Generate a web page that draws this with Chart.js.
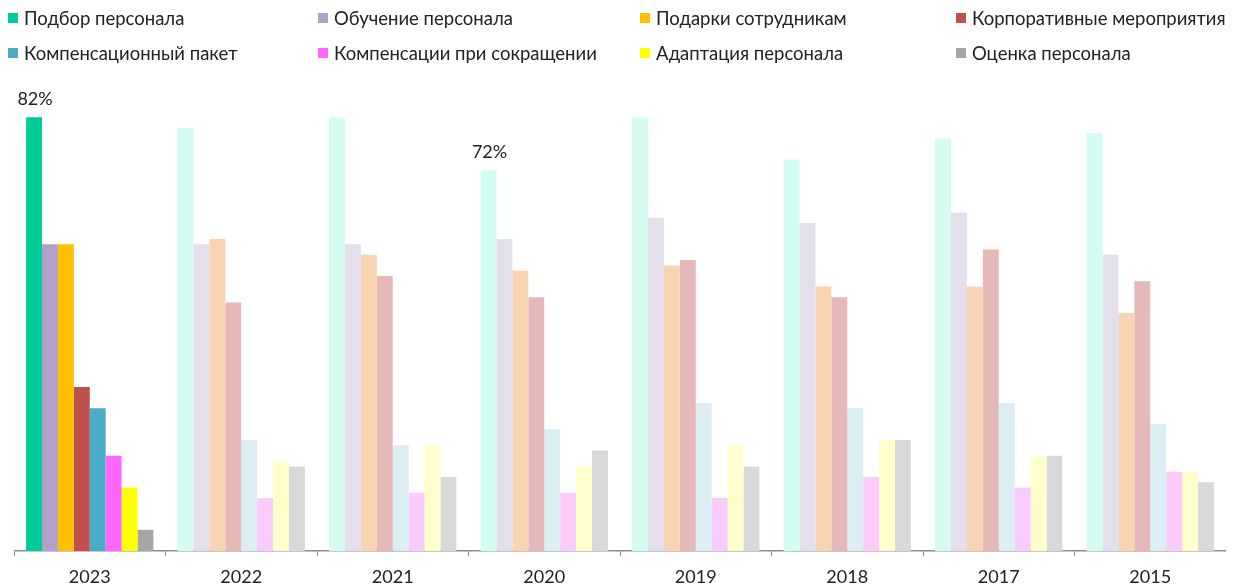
<!DOCTYPE html>
<html>
<head>
<meta charset="utf-8">
<script src="https://cdn.jsdelivr.net/npm/chart.js@4.4.0/dist/chart.umd.min.js"></script>
<style>
  body { margin: 0; background: #fff; }
  #wrap { position: relative; width: 1233px; height: 587px; overflow: hidden; }
  #chart { position: absolute; left: 14px; top: 0; }
  #legend {
    position: absolute; left: 8px; top: 5px;
    display: grid; grid-template-columns: 310px 322px 316px 280px;
    row-gap: 10px;
    font-family: Lato, "Open Sans", sans-serif; font-size: 18.5px; color: #222;
  }
  .item { display: flex; align-items: center; height: 25px; white-space: nowrap; }
  .box { width: 10px; height: 10px; margin-right: 6px; flex: none; }
</style>
</head>
<body>
<div id="wrap">
  <canvas id="chart" width="1212" height="587"></canvas>
  <div id="legend"></div>
</div>
<script>
const years = ["2023", "2022", "2021", "2020", "2019", "2018", "2017", "2015"];

const seriesNames = [
  "Подбор персонала", "Обучение персонала", "Подарки сотрудникам", "Корпоративные мероприятия",
  "Компенсационный пакет", "Компенсации при сокращении", "Адаптация персонала", "Оценка персонала"
];

// percent values, one array per series, in the order of years
const recruiting   = [82, 80, 82, 72, 82, 74, 78, 79];
const training     = [58, 58, 58, 59, 63, 62, 64, 56];
const gifts        = [58, 59, 56, 53, 54, 50, 50, 45];
const corpEvents   = [31, 47, 52, 48, 55, 48, 57, 51];
const compPackage  = [27, 21, 20, 23, 28, 27, 28, 24];
const layoffComp   = [18, 10, 11, 11, 10, 14, 12, 15];
const adaptation   = [12, 17, 20, 16, 20, 21, 18, 15];
const evaluation   = [4, 16, 14, 19, 16, 21, 18, 13];

const seriesValues = [recruiting, training, gifts, corpEvents, compPackage, layoffComp, adaptation, evaluation];

const fullColors = ["#00CC99", "#B1A0C7", "#FFC000", "#C0504D", "#4BACC6", "#FF66FF", "#FFFF00", "#A6A6A6"];
const paleColors = ["#D3FCF3", "#E4DFEC", "#F9D4B2", "#E6B8B7", "#DAEEF3", "#FBCBFC", "#FFFFCC", "#D9D9D9"];

// bars that carry a value label: [series index, year]
const labelled = [[0, "2023"], [0, "2020"]];

const datasets = seriesNames.map((name, i) => ({
  label: name,
  data: seriesValues[i],
  backgroundColor: years.map((y, j) => j === 0 ? fullColors[i] : paleColors[i]),
  borderWidth: 0,
  barPercentage: 1.0,
  categoryPercentage: 0.84
}));

const valueLabels = {
  id: "valueLabels",
  afterDatasetsDraw(chart) {
    const ctx = chart.ctx;
    ctx.save();
    ctx.font = "18px Lato, 'Open Sans', sans-serif";
    ctx.fillStyle = "#222";
    ctx.textAlign = "center";
    ctx.textBaseline = "bottom";
    labelled.forEach(([s, y]) => {
      const j = years.indexOf(y);
      const bar = chart.getDatasetMeta(s).data[j];
      ctx.fillText(seriesValues[s][j] + "%", bar.x + 1, bar.y - 9);
    });
    ctx.restore();
  }
};

new Chart(document.getElementById("chart"), {
  type: "bar",
  data: { labels: years, datasets: datasets },
  options: {
    responsive: false,
    devicePixelRatio: 1,
    animation: false,
    layout: { padding: { top: 75, left: 0, right: 0, bottom: 0 } },
    plugins: { legend: { display: false }, tooltip: { enabled: false } },
    scales: {
      x: {
        grid: { display: true, drawOnChartArea: false, drawTicks: true, tickLength: 5, color: "#8c8c8c", offset: true },
        border: { display: true, color: "#8c8c8c", width: 1.5 },
        ticks: { color: "#222", font: { family: "Lato, 'Open Sans', sans-serif", size: 18 }, padding: 10 },
        afterFit(scale) { scale.height = 36; }
      },
      y: { display: false, min: 0, max: 90 }
    }
  },
  plugins: [valueLabels]
});

const legend = document.getElementById("legend");
seriesNames.forEach((name, i) => {
  const item = document.createElement("div");
  item.className = "item";
  item.innerHTML = `<span class="box" style="background:${fullColors[i]}"></span><span>${name}</span>`;
  legend.appendChild(item);
});
</script>
</body>
</html>
